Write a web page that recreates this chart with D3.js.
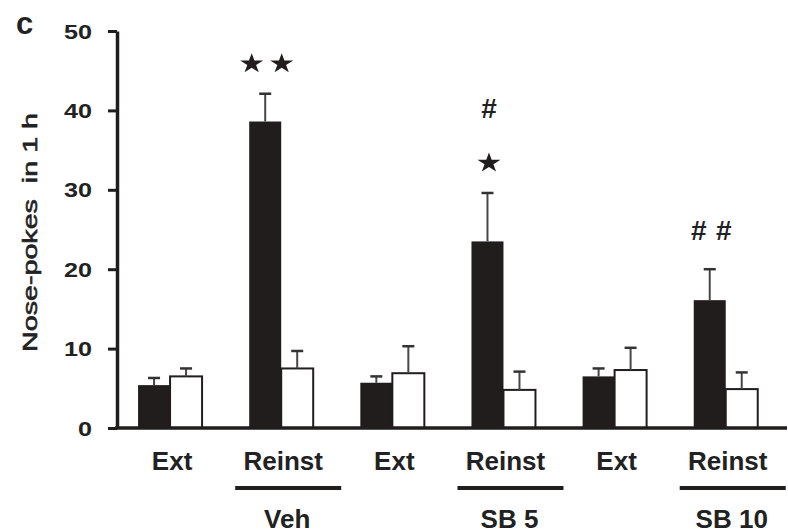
<!DOCTYPE html>
<html><head><meta charset="utf-8">
<script src="https://cdn.jsdelivr.net/npm/d3@7"></script>
<style>
html,body{margin:0;padding:0;background:#fff;}
svg{display:block;font-family:"Liberation Sans",Arial,Helvetica,sans-serif;}
</style></head>
<body><svg id="c" width="788" height="532"></svg>
<script>
const phases = ["Ext","Reinst","Ext","Reinst","Ext","Reinst"];
const treatments = ["Veh","SB 5","SB 10"];
const blackMeans = [5.4, 38.6, 5.7, 23.5, 6.5, 16.1];
const blackErr   = [0.9, 3.5, 0.8, 6.1, 1.0, 3.9];
const whiteMeans = [6.5, 7.5, 6.9, 4.8, 7.3, 4.9];
const whiteErr   = [1.0, 2.2, 3.4, 2.3, 2.8, 2.1];
const yTicks = [0, 10, 20, 30, 40, 50];
const marks = [[], ["★★"], [], ["★","#"], [], ["##"]];
const yLabel = "Nose-pokes  in 1 h";
const panel = "c";

const svg = d3.select("#c");
const ink = "#211d1d";
const y = d3.scaleLinear().domain([0, 50]).range([428, 31]);
const x = d3.scalePoint().domain(d3.range(phases.length)).range([114.5, 781.3]).padding(0.5);
const bw = 32;

// y axis
const yAxis = svg.append("g").attr("transform", "translate(117,0)")
  .call(d3.axisLeft(y).tickValues(yTicks).tickSize(9).tickSizeOuter(0).tickPadding(16));
yAxis.select(".domain").attr("stroke", ink).attr("stroke-width", 3.5);
yAxis.selectAll(".tick line").attr("stroke", ink).attr("stroke-width", 3);
yAxis.selectAll(".tick text").attr("font-size", 21).attr("font-weight", "bold")
  .attr("fill", "#222").attr("font-family", "Liberation Sans, Arial, sans-serif")
  .attr("dy", "0.34em")
  .attr("lengthAdjust", "spacingAndGlyphs")
  .attr("textLength", d => String(d).length * 14);

// bars
const g = svg.append("g");
phases.forEach((p, i) => {
  const cx = x(i);
  g.append("rect").attr("x", cx - bw).attr("y", y(blackMeans[i]))
    .attr("width", bw).attr("height", y(0) - y(blackMeans[i])).attr("fill", ink);
  g.append("rect").attr("x", cx).attr("y", y(whiteMeans[i]))
    .attr("width", bw).attr("height", y(0) - y(whiteMeans[i]))
    .attr("fill", "#fff").attr("stroke", ink).attr("stroke-width", 2);
  [[cx - bw / 2, blackMeans[i], blackErr[i]], [cx + bw / 2, whiteMeans[i], whiteErr[i]]].forEach(([ex, m, e]) => {
    g.append("line").attr("x1", ex).attr("x2", ex).attr("y1", y(m)).attr("y2", y(m + e))
      .attr("stroke", "#4a4646").attr("stroke-width", 2);
    g.append("line").attr("x1", ex - 6).attr("x2", ex + 6).attr("y1", y(m + e)).attr("y2", y(m + e))
      .attr("stroke", "#333").attr("stroke-width", 2.5);
  });
});

// x axis line
svg.append("line").attr("x1", 115).attr("x2", 787).attr("y1", y(0)).attr("y2", y(0))
  .attr("stroke", ink).attr("stroke-width", 3.5);

// significance marks
const star = d3.symbol().type(d3.symbolStar).size(150);
marks.forEach((list, i) => {
  const cx = x(i) - bw / 2 + 1.5;
  const top = y(blackMeans[i] + blackErr[i]);
  let yy = top - (list[0] && list[0].startsWith("★") ? 31 : 39);
  list.forEach(m => {
    const n = m.length;
    for (let k = 0; k < n; k++) {
      const mx = cx + (k - (n - 1) / 2) * (m[0] === "★" ? 30 : 25);
      if (m[0] === "★") {
        g.append("path").attr("d", star).attr("fill", ink)
          .attr("transform", `translate(${mx},${yy + 1}) scale(1.05,0.9)`);
      } else {
        g.append("text").attr("x", mx).attr("y", yy + 10).attr("text-anchor", "middle")
          .attr("font-size", 28).attr("font-weight", "bold").attr("fill", "#222").text("#");
      }
    }
    yy -= 54;
  });
});

// x labels
svg.append("g").selectAll("text").data(phases).join("text")
  .attr("x", (d, i) => x(i) + 2).attr("y", 469.5).attr("text-anchor", "middle")
  .attr("font-size", 26).attr("font-weight", "bold").attr("fill", "#222").text(d => d);

// treatment underlines and labels
treatments.forEach((t, j) => {
  const cx = x(2 * j + 1);
  svg.append("line").attr("x1", cx - 46).attr("x2", cx + 60).attr("y1", 488).attr("y2", 488)
    .attr("stroke", ink).attr("stroke-width", 4);
  svg.append("text").attr("x", cx + 6).attr("y", 527.5).attr("text-anchor", "middle")
    .attr("font-size", 26).attr("font-weight", "bold").attr("fill", "#222").text(t);
});

// y label
svg.append("text").attr("transform", "translate(37,352) rotate(-90)")
  .attr("x", 0).attr("y", 0).attr("font-size", 21).attr("fill", "#222")
  .attr("stroke", "#222").attr("stroke-width", 0.6)
  .attr("textLength", 239).attr("lengthAdjust", "spacingAndGlyphs")
  .style("white-space", "pre").text(yLabel);

// panel letter
svg.append("text").attr("x", 16).attr("y", 34).attr("font-size", 31).attr("font-weight", "bold")
  .attr("fill", "#222").text(panel);
</script></body></html>
